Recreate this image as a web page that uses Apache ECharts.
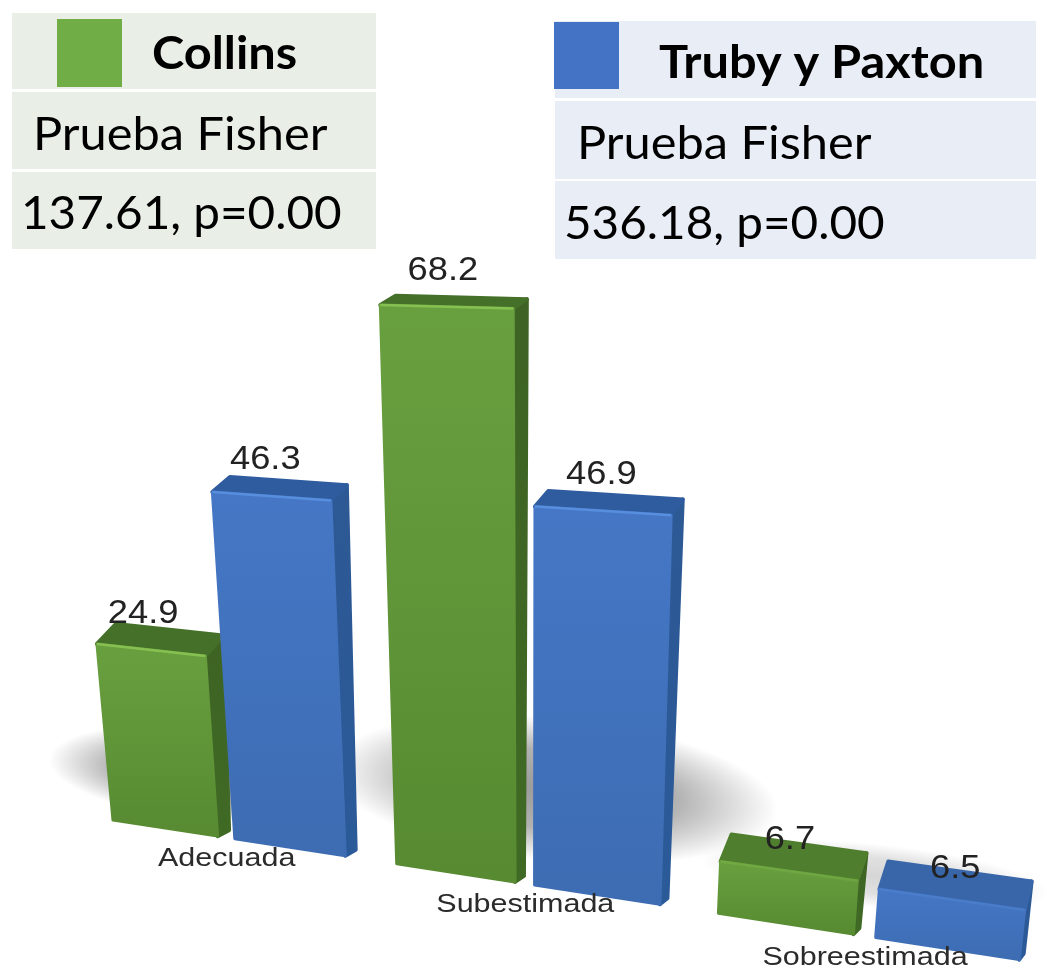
<!DOCTYPE html>
<html><head><meta charset="utf-8">
<style>html,body{margin:0;padding:0;background:#fff}#c{width:1048px;height:970px;filter:blur(0.6px)}</style>
<script src="https://cdn.jsdelivr.net/npm/echarts@6/dist/echarts.min.js"></script>
</head><body><div id="c"></div>
<script>
const categories = ['Adecuada','Subestimada','Sobreestimada'];
const collins = [24.9, 68.2, 6.7];
const truby = [46.3, 46.9, 6.5];
const collinsPanel = ['Collins','Prueba Fisher','137.61, p=0.00'];
const trubyPanel = ['Truby y Paxton','Prueba Fisher','536.18, p=0.00'];

// perspective look of the picture (not data)
const depthScale = [[0.894, 1.0375, 0.98], [0.9475, 1.0225, 0.94]];
const shadows = [
  {dx:-28, dy:-64, rx:150, ry:46, a:0.42},
  {dx:29, dy:-94, rx:225, ry:72, a:0.4},
  {dx:10, dy:-60, rx:175, ry:32, a:0.16}
];

const SLOT = 2.61, BAR = 1, GAP = 0.16;
const GL = 85.3, GW = 962.3, X0 = 113, Y0 = 820;
const warp = u => { const r = u - X0; return X0 + 0.8324 * r / (1 - 0.000184 * r); };
const floorY = x => Y0 + (x - X0) * 0.154;
const raiseX = (x, y0, y) => 530 + (x - 530) * (5400 - y) / (5400 - y0);
const grad = (a, b) => new echarts.graphic.LinearGradient(0, 0, 0, 1, [{offset:0,color:a},{offset:1,color:b}]);

function barItem(side, pal) {
  return function (params, api) {
    const i = api.value(0), v = api.value(1);
    const band = api.size([1, 0])[0], unit = band / SLOT;
    const c = api.coord([i, 0])[0];
    const l = side === 0 ? c - (BAR + GAP / 2) * unit : c + (GAP / 2) * unit;
    const xL = warp(l), xR = warp(l + BAR * unit);
    const bL = [xL, floorY(xL)], bR = [xR, floorY(xR)];
    const xC = (xL + xR) / 2, w = xR - xL;
    const h = api.size([0, v])[1] * depthScale[side][i];
    const yC = floorY(xC) - h, s = 0.154 * Math.max(0.15, 1 - h / 700);
    const yL = yC - s * w / 2, yR = yC + s * w / 2;
    const tL = [raiseX(xL, bL[1], yL), yL], tR = [raiseX(xR, bR[1], yR), yR];
    const depth = p => [19 - 0.013 * (p[0] - 100), -(9 + (p[1] - 300) * 0.032)];
    const dL = depth(tL), dR = depth(tR);
    const bkL = [tL[0] + dL[0], tL[1] + dL[1]], bkR = [tR[0] + dR[0], tR[1] + dR[1]];
    const baseBack = [bR[0] + dR[0] * 0.65, bR[1] - 6];
    const face = (pts, fill, lw) => ({type:'polygon', shape:{points:pts},
      style:{fill, stroke:fill, lineWidth:lw, lineJoin:'round'}});
    const low = h < 100;
    const mid = [(tL[0] + tR[0]) / 2, (tL[1] + tR[1]) / 2];
    return {type:'group', children:[
      face([tR, bkR, baseBack, bR], grad(pal.side[0], pal.side[1]), 4),
      face([tL, bkL, bkR, tR], low ? pal.topLow : pal.top, 4),
      face([tL, tR, bR, bL], grad(pal.front[0], pal.front[1]), 3),
      {type:'polyline', shape:{points:[tL, tR]}, style:{fill:null, stroke:pal.hi, lineWidth:2.5, opacity: low ? 0.25 : 0.85}},
      {type:'text', x:mid[0] - 8 + 0.014 * (mid[0] - 150), y:mid[1] - (low ? 31 : 36), scaleX:1.1,
        style:{text:String(v), x:0, y:0, align:'center', verticalAlign:'middle',
          font:'33px "Liberation Sans"', fill:'#222'}}
    ]};
  };
}

function floorItem(params, api) {
  const i = api.value(0), c = warp(api.coord([i, 0])[0]), y = floorY(c), sh = shadows[i];
  return {type:'circle', x:c + sh.dx, y:y + sh.dy, rotation:-0.1, scaleY:sh.ry / sh.rx,
    shape:{cx:0, cy:0, r:sh.rx},
    style:{fill:new echarts.graphic.RadialGradient(0.5, 0.5, 0.5,
      [{offset:0,color:'rgba(0,0,0,'+sh.a+')'},{offset:0.55,color:'rgba(0,0,0,'+sh.a*0.75+')'},{offset:1,color:'rgba(0,0,0,0)'}])}};
}

function labelItem(params, api) {
  const i = api.value(0), c = warp(api.coord([i, 0])[0]);
  return {type:'text', x:c + 0.5, y:floorY(c) + 22, scaleX:1.22,
    style:{text:categories[i], x:0, y:0, align:'center', verticalAlign:'middle',
      font:'25px "Liberation Sans"', fill:'#2b2b2b'}};
}

function panel(x, w, tops, fill, swatch, color, texts, tx) {
  const out = [];
  tops.forEach(t => out.push({type:'rect', shape:{x, y:t[0], width:w, height:t[1] - t[0]}, style:{fill}}));
  out.push({type:'rect', shape:swatch, style:{fill:color}});
  texts.forEach((s, k) => out.push({type:'text', x:tx[k][0], y:tx[k][1], scaleX:k === 2 ? 1.035 : 1.06, style:{text:s, x:0, y:0,
    font:(k === 0 ? 'bold ' : '') + '46px Lato', fill:'#000', align:'left', verticalAlign:'middle'}}));
  return out;
}

const idx = a => a.map((v, i) => [i, v]);
const chart = echarts.init(document.getElementById('c'));
chart.setOption({
  animation:false, backgroundColor:'#fff',
  grid:{left:GL, top:60, width:GW, height:800, containLabel:false},
  xAxis:{type:'category', data:categories, show:false},
  yAxis:{type:'value', min:0, max:100, show:false},
  series:[
    {type:'custom', name:'Sombra', z:1, silent:true, renderItem:floorItem, data:idx(collins), clip:false, encode:{x:0,y:1}},
    {type:'custom', name:'Collins', z:2, renderItem:barItem(0,
      {front:['#69a03f','#578a31'], side:['#3e6324','#3f6a24'], top:'#44702a', topLow:'#4f7f2e', hi:'#8cc655'}),
      data:idx(collins), clip:false, encode:{x:0,y:1}},
    {type:'custom', name:'Truby y Paxton', z:3, renderItem:barItem(1,
      {front:['#4577c6','#3d6cb2'], side:['#2d5994','#2b5a99'], top:'#2f5c9e', topLow:'#3966a9', hi:'#5b92e0'}),
      data:idx(truby), clip:false, encode:{x:0,y:1}},
    {type:'custom', name:'Categorías', z:4, silent:true, renderItem:labelItem, data:idx(collins), clip:false, encode:{x:0,y:1}}
  ],
  graphic:[].concat(
    panel(12, 364, [[13,89],[92,169],[172,249]], '#e9efe7', {x:57,y:19,width:65,height:68}, '#70ad47', collinsPanel,
      [[152,54],[33,135],[21,214]]),
    panel(555, 481, [[21,98],[101,179],[181,259]], '#e9edf6', {x:554,y:22,width:65,height:67}, '#4472c4', trubyPanel,
      [[659,63],[577,144],[564,224]])
  )
});
</script></body></html>
